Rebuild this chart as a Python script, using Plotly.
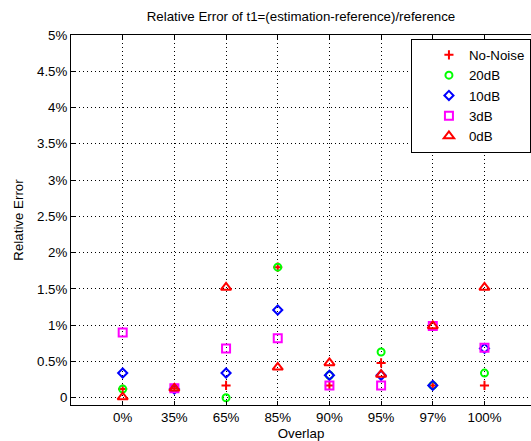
import plotly.graph_objects as go

# Overlap categories and relative error (%) for each noise level
categories = ['0%', '35%', '65%', '85%', '90%', '95%', '97%', '100%']
no_noise = [0.12, 0.13, 0.17, 1.80, 0.17, 0.48, 0.17, 0.17]
db20 = [0.12, 0.13, 0.00, 1.80, 0.31, 0.63, 0.17, 0.34]
db10 = [0.34, 0.12, 0.34, 1.21, 0.31, 0.31, 0.17, 0.68]
db3 = [0.90, 0.13, 0.68, 0.82, 0.17, 0.17, 0.99, 0.69]
db0 = [0.01, 0.13, 1.52, 0.42, 0.48, 0.32, 0.99, 1.52]

y_tickvals = [0, 0.5, 1, 1.5, 2, 2.5, 3, 3.5, 4, 4.5, 5]
y_ticktext = ['0', '0.5%', '1%', '1.5%', '2%', '2.5%', '3%', '3.5%', '4%', '4.5%', '5%']

x_pos = list(range(1, len(categories) + 1))

series = [
    ('No-Noise', no_noise, 'cross-thin-open', 'rgb(255,0,0)', 6.5),
    ('20dB', db20, 'circle-open', 'rgb(0,255,0)', 7),
    ('10dB', db10, 'diamond-open', 'rgb(0,0,255)', 7),
    ('3dB', db3, 'square-open', 'rgb(255,0,255)', 8),
    ('0dB', db0, 'triangle-up-open', 'rgb(255,0,0)', 9),
]

fig = go.Figure()
for name, vals, sym, col, size in series:
    fig.add_trace(go.Scatter(
        x=x_pos, y=vals, mode='markers', name=name,
        marker=dict(symbol=sym, size=size, color=col,
                    line=dict(color=col, width=2)),
    ))

fs = 13.3
axis_font = dict(family='Liberation Sans, Arial, sans-serif', size=fs, color='#000')
grid_dash = '1px,3px'

fig.update_layout(
    width=531, height=441,
    margin=dict(l=71, r=0, t=35, b=36, autoexpand=False),
    paper_bgcolor='white', plot_bgcolor='white',
    font=axis_font,
    title=dict(text='Relative Error of t1=(estimation-reference)/reference',
               x=0.5, xref='paper', y=1, yref='container', yanchor='top',
               pad=dict(t=12), font=dict(size=fs)),
    showlegend=True,
    legend=dict(x=0.739, y=0.99, xanchor='left', yanchor='top',
                bordercolor='black', borderwidth=1, bgcolor='white',
                font=dict(size=fs), itemwidth=30, indentation=17),
    xaxis=dict(range=[0, 8.9], tickvals=x_pos, ticktext=categories,
               showgrid=True, gridcolor='black', griddash=grid_dash, gridwidth=1,
               ticks='inside', ticklen=4, tickcolor='black',
               showline=True, linecolor='black', linewidth=1, mirror='ticks',
               zeroline=False,
               title=dict(text='Overlap', standoff=4, font=dict(size=fs))),
    yaxis=dict(range=[-0.1, 5], tickvals=y_tickvals, ticktext=y_ticktext,
               showgrid=True, gridcolor='black', griddash=grid_dash, gridwidth=1,
               ticks='inside', ticklen=4, tickcolor='black',
               showline=True, linecolor='black', linewidth=1,
               zeroline=False,
               title=dict(text='Relative Error', standoff=10, font=dict(size=fs))),
)

fig.write_html('out.html')
